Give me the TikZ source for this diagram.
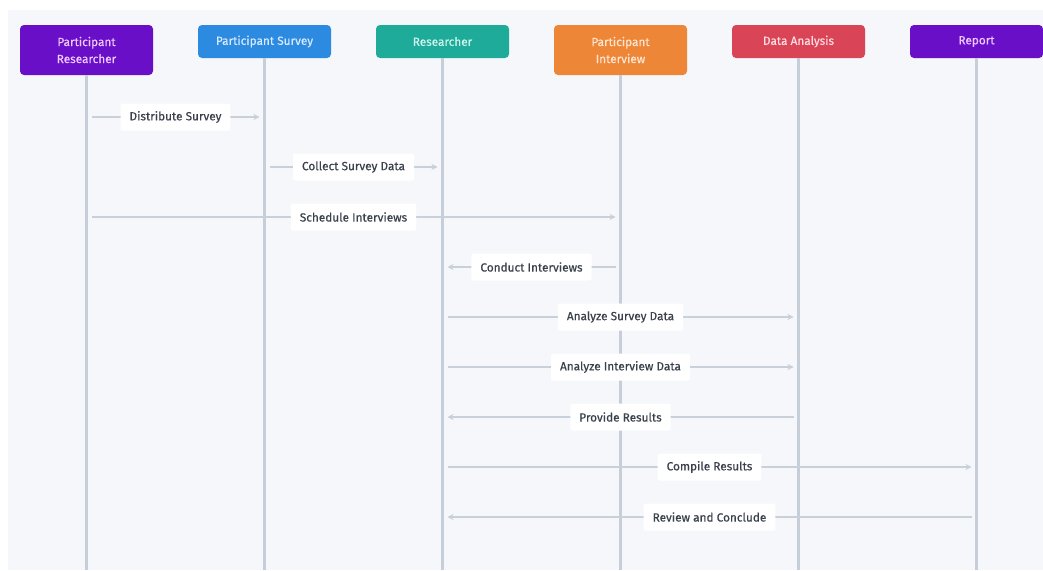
\documentclass[tikz,border=0pt]{standalone}
\usepackage{fontspec}
\setmainfont{Fira Sans}[FakeBold=0.5]
\usetikzlibrary{arrows.meta,calc}
\definecolor{bg}{HTML}{F5F7FA}
\definecolor{lifec}{HTML}{C6CED9}
\definecolor{msgc}{HTML}{C8D0DA}
\definecolor{lblc}{HTML}{3A414C}
\definecolor{cpur}{HTML}{6A0FC8}
\definecolor{tpur}{HTML}{EEC9FF}
\definecolor{cblue}{HTML}{2C8BE0}
\definecolor{tblue}{HTML}{D6EAFF}
\definecolor{cteal}{HTML}{1FAB9A}
\definecolor{tteal}{HTML}{CDF6EF}
\definecolor{corange}{HTML}{EE8637}
\definecolor{torange}{HTML}{FFE6D2}
\definecolor{cred}{HTML}{D94557}
\definecolor{tred}{HTML}{FFDDE2}
\tikzset{
  actor/.style={rounded corners=4pt, minimum width=133pt, align=center, inner sep=2pt,
    font=\fontsize{11.8}{17}\selectfont},
  actorone/.style={actor, minimum height=33pt},
  actortwo/.style={actor, minimum height=50pt},
  life/.style={draw=lifec, line width=2.2pt},
  msg/.style={draw=msgc, line width=2.2pt, shorten <=5pt, shorten >=5pt,
    -{Stealth[length=6pt,width=6pt,inset=2pt]}},
  lbl/.style={fill=white, rounded corners=2pt, text=lblc, inner xsep=9pt,
    minimum height=27pt, font=\fontsize{11.8}{14}\selectfont}
}
\begin{document}
\begin{tikzpicture}[x=1pt,y=-1pt]
\useasboundingbox (0,0) rectangle (1043,570);
\fill[bg] (8,10) rectangle (1043,570);
% actors
\node[actortwo, fill=cpur, text=tpur] (pr) at (86.5,50) {Participant\\Researcher};
\node[actorone, fill=cblue, text=tblue] (ps) at (264.5,41.5) {Participant Survey};
\node[actorone, fill=cteal, text=tteal] (rs) at (442.5,41.5) {Researcher};
\node[actortwo, fill=corange, text=torange] (pi) at (620.5,50) {Participant\\Interview};
\node[actorone, fill=cred, text=tred] (da) at (798.5,41.5) {Data Analysis};
\node[actorone, fill=cpur, text=tpur] (rp) at (976.5,41.5) {Report};
% lifeline ends
\coordinate (bot) at (0,570);
\foreach \n in {pr,ps,rs,pi,da,rp}{
  \draw[life] (\n.south) -- (\n.south |- bot);
}
% message rows
\coordinate (m1) at (0,117);
\coordinate (m2) at (0,167);
\coordinate (m3) at (0,217);
\coordinate (m4) at (0,267);
\coordinate (m5) at (0,317);
\coordinate (m6) at (0,367);
\coordinate (m7) at (0,417);
\coordinate (m8) at (0,467);
\coordinate (m9) at (0,517);
\draw[msg] (pr |- m1) -- node[lbl]{Distribute Survey} (ps |- m1);
\draw[msg] (ps |- m2) -- node[lbl]{Collect Survey Data} (rs |- m2);
\draw[msg] (pr |- m3) -- node[lbl]{Schedule Interviews} (pi |- m3);
\draw[msg] (pi |- m4) -- node[lbl]{Conduct Interviews} (rs |- m4);
\draw[msg] (rs |- m5) -- node[lbl]{Analyze Survey Data} (da |- m5);
\draw[msg] (rs |- m6) -- node[lbl]{Analyze Interview Data} (da |- m6);
\draw[msg] (da |- m7) -- node[lbl]{Provide Results} (rs |- m7);
\draw[msg] (rs |- m8) -- node[lbl]{Compile Results} (rp |- m8);
\draw[msg] (rp |- m9) -- node[lbl]{Review and Conclude} (rs |- m9);
\end{tikzpicture}
\end{document}
